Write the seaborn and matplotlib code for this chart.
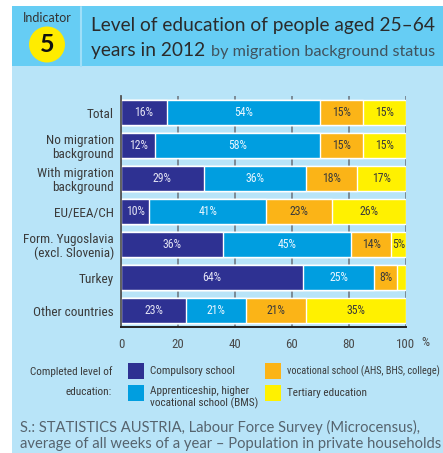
import os
import numpy as np
import pandas as pd
import matplotlib
matplotlib.use("Agg")
import matplotlib.pyplot as plt
import seaborn as sns
from matplotlib import font_manager as fm
from matplotlib.font_manager import FontProperties
from matplotlib.patches import Rectangle, Ellipse
from matplotlib.lines import Line2D

# ---- data -------------------------------------------------------------
groups = [
    "Total",
    "No migration\nbackground",
    "With migration\nbackground",
    "EU/EEA/CH",
    "Form. Yugoslavia\n(excl. Slovenia)",
    "Turkey",
    "Other countries",
]
compulsory = [16, 12, 29, 10, 36, 64, 23]
apprenticeship = [54, 58, 36, 41, 45, 25, 21]
vocational = [15, 15, 18, 23, 14, 8, 21]
tertiary = [15, 15, 17, 26, 5, 3, 35]

levels = [
    "Compulsory school",
    "Apprenticeship, higher\nvocational school (BMS)",
    "vocational school (AHS, BHS, college)",
    "Tertiary education",
]
xticks = [0, 20, 40, 60, 80, 100]

# ---- fonts ------------------------------------------------------------
sns.set_style("white")
plt.rcParams["font.family"] = ["Lato", "DejaVu Sans"]


def pick_narrow():
    """Prefer a regular-weight condensed/narrow face; fall back to Liberation Sans."""
    prefs = ["RobotoCondensed-Regular", "LiberationSansNarrow-Regular",
             "DejaVuSansCondensed.ttf", "OpenSans_Condensed-Regular",
             "OpenSansCondensed"]
    files = [f.fname for f in fm.fontManager.ttflist]
    for key in prefs:
        for fn in files:
            if key in os.path.basename(fn):
                return FontProperties(fname=fn)
    for fn in files:
        b = os.path.basename(fn)
        if ("Condensed" in b or "Narrow" in b) and "Bold" not in b and "Italic" not in b \
                and "Oblique" not in b and "Light" not in b:
            return FontProperties(fname=fn)
    return FontProperties(family="Liberation Sans")


NARROW_FP = pick_narrow()
SANS_FP = FontProperties(family=["Lato", "DejaVu Sans"])

colors = ["#2e3192", "#009ee0", "#fbb417", "#fff100"]
value_colors = ["#e4e4f4", "#e8f6ff", "#3a3a3a", "#3a3a3a"]
TEXT = "#3a3a3a"
PANEL = "#b8e4f8"
HEADER = "#66cdf4"

W, H = 443, 453
fig = plt.figure(figsize=(W / 100, H / 100), dpi=100)
fig.patch.set_facecolor("white")
renderer = fig.canvas.get_renderer()


def fit(text, width_px, fp, weight="normal"):
    """Font size (pt) at which `text` spans width_px pixels."""
    p = fp.copy()
    p.set_size(10)
    p.set_weight(weight)
    w, _, _ = renderer.get_text_width_height_descent(text, p, ismath=False)
    return 10 * width_px / w


def fprop(fp, size, weight="normal"):
    p = fp.copy()
    p.set_size(size)
    p.set_weight(weight)
    return p


def fx(x):
    return x / W


def fy(y):
    return 1 - y / H


# sizes for the condensed text
label_size = fit("Form. Yugoslavia", 90, NARROW_FP)
legend_size = min(fit("vocational school (BMS)", 108, NARROW_FP),
                  fit("Completed level of", 94, NARROW_FP))
long_size = fit("vocational school (AHS, BHS, college)", 153, NARROW_FP)
value_size = fit("54%", 19, NARROW_FP)
tick_size = fit("100", 19, NARROW_FP)

# background panels
fig.add_artist(Rectangle((fx(12), 0), fx(W - 12), fy(66), transform=fig.transFigure,
                         facecolor=PANEL, edgecolor="none", zorder=0))
fig.add_artist(Rectangle((fx(12), fy(66)), fx(W - 12), (66 - 6) / H, transform=fig.transFigure,
                         facecolor=HEADER, edgecolor="none", zorder=0))
fig.add_artist(Line2D([fx(81), fx(81)], [fy(7), fy(66)], transform=fig.transFigure,
                      color="#9fdff8", lw=1.5, zorder=1))

# indicator badge
fig.text(fx(47), fy(18), "Indicator", ha="center", va="center",
         fontproperties=fprop(SANS_FP, fit("Indicator", 49, SANS_FP)), color="#333333")
fig.add_artist(Ellipse((fx(47), fy(44.5)), 36 / W, 36 / H, transform=fig.transFigure,
                       facecolor="#ffec00", edgecolor="none", zorder=2))
fig.text(fx(47), fy(45), "5", ha="center", va="center",
         fontproperties=fprop(SANS_FP, 18, "bold"), color="#111111", zorder=3)

# title
title_size = fit("Level of education of people aged 25\u201364", 346, SANS_FP)
fig.text(fx(91), fy(31), "Level of education of people aged 25\u201364", ha="left",
         va="baseline", fontproperties=fprop(SANS_FP, title_size), color="#2b2b2b")
t2 = fig.text(fx(91), fy(56), "years in 2012", ha="left", va="baseline",
              fontproperties=fprop(SANS_FP, title_size), color="#2b2b2b")
fig.canvas.draw()
x2 = t2.get_window_extent(renderer).x1 + 6
sub = "by migration background status"
fig.text(x2 / W, fy(56), sub, ha="left", va="baseline",
         fontproperties=fprop(SANS_FP, min(title_size, fit(sub, 437 - x2, SANS_FP))),
         color="#40525d")

# ---- chart ------------------------------------------------------------
ax = fig.add_axes([fx(121), fy(327), fx(405.5) - fx(121), (327 - 96) / H])
ax.patch.set_alpha(0)

df = pd.DataFrame({"group": groups, "c": compulsory, "a": apprenticeship,
                   "v": vocational, "t": tertiary})
parts = ["c", "a", "v", "t"]
cum = df[parts].cumsum(axis=1)

for i in reversed(range(4)):
    sns.barplot(x=cum[parts[i]], y=df["group"], orient="h", color=colors[i],
                saturation=1, width=0.76, ax=ax, zorder=2)

# value labels centered in each segment
vfp = fprop(NARROW_FP, value_size)
for row in range(len(groups)):
    left = 0
    for i, p in enumerate(parts):
        v = df[p].iloc[row]
        if v >= 5:
            ax.text(left + v / 2, row, f"{v}%", ha="center", va="center",
                    fontproperties=vfp, color=value_colors[i], zorder=3)
        left += v

ax.set_xlim(0, 100)
ax.set_ylim(6.5, -0.5)
ax.set_xticks(xticks)
ax.set_xticklabels([str(t) for t in xticks])
ax.set_xlabel("")
ax.set_ylabel("")
ax.tick_params(axis="x", length=6, width=1.3, color="#6d7d88", pad=2, direction="out")
ax.tick_params(axis="y", length=0, pad=5)
tfp = fprop(NARROW_FP, tick_size)
for lab in ax.get_xticklabels():
    lab.set_fontproperties(tfp)
    lab.set_color("#4a4a4a")
lfp = fprop(NARROW_FP, label_size)
for lab in ax.get_yticklabels():
    lab.set_fontproperties(lfp)
    lab.set_color(TEXT)
    lab.set_multialignment("right")
    lab.set_linespacing(1.1)

ax.grid(axis="x", color="#7a8a96", lw=1.4, zorder=0)
ax.grid(axis="y", visible=False)
ax.set_axisbelow(True)
for s in ["top", "right"]:
    ax.spines[s].set_visible(False)
ax.spines["left"].set_color("#555555")
ax.spines["left"].set_linewidth(1.3)
ax.spines["bottom"].set_color("#222222")
ax.spines["bottom"].set_linewidth(1.4)

fig.text(fx(421), fy(342), "%", ha="left", va="center", fontproperties=tfp, color="#4a4a4a")

# ---- legend -----------------------------------------------------------
gfp = fprop(NARROW_FP, legend_size)
fig.text(fx(112), fy(372), "Completed level of", ha="right", va="center",
         fontproperties=gfp, color=TEXT)
fig.text(fx(112), fy(392), "education:", ha="right", va="center",
         fontproperties=gfp, color=TEXT)

legend_pos = [(128, 363), (128, 385), (265, 363), (265, 385)]
for (x, y), col, name in zip(legend_pos, colors, levels):
    fig.add_artist(Rectangle((fx(x), fy(y + 16)), 16 / W, 16 / H, transform=fig.transFigure,
                             facecolor=col, edgecolor="none"))
    prop = gfp if len(name) < 30 or "\n" in name else fprop(NARROW_FP, long_size)
    if "\n" in name:
        fig.text(fx(x + 22), fy(y + 1), name, ha="left", va="top", fontproperties=prop,
                 color=TEXT, linespacing=1.2)
    else:
        fig.text(fx(x + 22), fy(y + 8), name, ha="left", va="center",
                 fontproperties=prop, color=TEXT)

# ---- source -----------------------------------------------------------
src1 = "S.: STATISTICS AUSTRIA, Labour Force Survey (Microcensus),"
src2 = "average of all weeks of a year \u2013 Population in private households"
sfp = fprop(SANS_FP, fit(src2, 420, SANS_FP))
fig.text(fx(20), fy(432), src1, ha="left", va="baseline", fontproperties=sfp, color="#56646e")
fig.text(fx(20), fy(448), src2, ha="left", va="baseline", fontproperties=sfp, color="#56646e")

fig.savefig("out.png", dpi=100)
